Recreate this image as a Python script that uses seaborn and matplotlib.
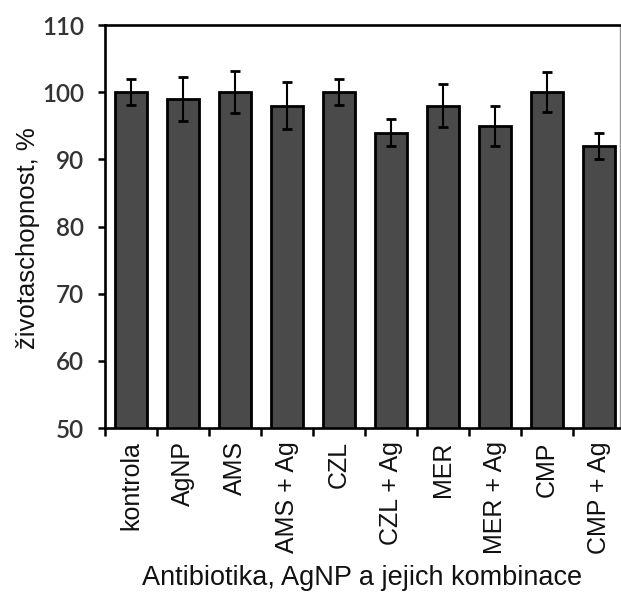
import numpy as np
import pandas as pd
import matplotlib
matplotlib.use("Agg")
import matplotlib.pyplot as plt
import seaborn as sns
from matplotlib.ticker import FixedLocator, NullFormatter

# Viability of cells after treatment with antibiotics, silver nanoparticles and their combinations
categories = ["kontrola", "AgNP", "AMS", "AMS + Ag", "CZL", "CZL + Ag",
              "MER", "MER + Ag", "CMP", "CMP + Ag"]
viability = [100, 99, 100, 98, 100, 94, 98, 95, 100, 92]
errors = [1.9, 3.3, 3.1, 3.5, 1.9, 2.0, 3.2, 3.0, 3.0, 1.9]
yticks = [50, 60, 70, 80, 90, 100, 110]

df = pd.DataFrame({"skupina": categories, "zivotaschopnost": viability})

sns.set_theme(style="white")
plt.rcParams["font.family"] = ["Liberation Sans", "DejaVu Sans"]

fig = plt.figure(figsize=(6.21, 5.92), dpi=100)
ax = fig.add_axes([0.1691, 0.2770, 0.8293, 0.6807])

sns.barplot(data=df, x="skupina", y="zivotaschopnost", ax=ax,
            color="#4a4a4a", saturation=1, width=0.62,
            edgecolor="black", linewidth=2.0, errorbar=None)

ax.errorbar(np.arange(len(categories)), viability, yerr=errors,
            fmt="none", ecolor="black", elinewidth=1.5,
            capsize=3.8, capthick=2.0, zorder=5)

ax.set_ylim(50, 110)
ax.set_xlim(-0.5, 9.404)
ax.set_yticks(yticks)
ax.set_yticklabels([str(t) for t in yticks], fontfamily="Lato",
                   fontsize=17.5, fontweight="semibold", color="#333333")

ax.set_xticks(np.arange(len(categories)))
ax.set_xticklabels(categories, rotation=90, fontsize=18, color="#111111")
ax.xaxis.set_minor_locator(FixedLocator(np.arange(-0.5, len(categories), 1.0)))
ax.xaxis.set_minor_formatter(NullFormatter())
ax.tick_params(axis="x", which="major", length=0, pad=9.5)
ax.tick_params(axis="x", which="minor", length=5.5, width=1.8,
               color="black", direction="out", bottom=True)
ax.tick_params(axis="y", which="major", length=5, width=1.8,
               color="black", direction="out", left=True, pad=10)

for side in ["left", "bottom", "top", "right"]:
    ax.spines[side].set_visible(True)
    ax.spines[side].set_color("black")
    ax.spines[side].set_linewidth(1.9)
ax.spines["right"].set_color("#999999")
ax.spines["right"].set_linewidth(1.0)

ax.set_xlabel("Antibiotika, AgNP a jejich kombinace", fontsize=19.5,
              color="#111111")
ax.set_ylabel("životaschopnost, %", fontsize=18.5, color="#111111")
ax.yaxis.set_label_coords(-0.126, 0.47)
ax.xaxis.set_label_coords(0.5, -0.34)

fig.savefig("out.png", dpi=100, facecolor="white")
